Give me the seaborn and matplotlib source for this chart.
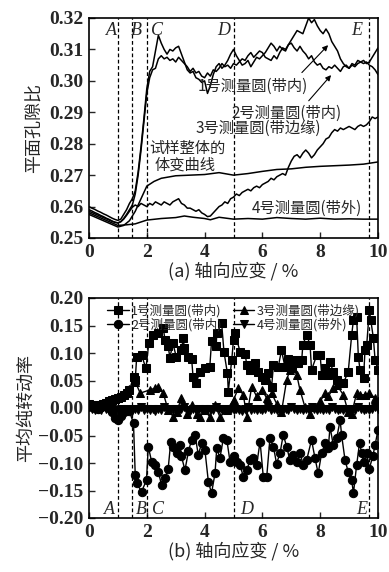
import numpy as np
import pandas as pd
import matplotlib
matplotlib.use("Agg")
import matplotlib.pyplot as plt
import seaborn as sns

# ---------------- data: panel (a) ----------------
strain_a = [round(0.1 * i, 1) for i in range(101)]
circle1_a = [0.2600, 0.2595, 0.2591, 0.2586, 0.2582, 0.2577, 0.2573, 0.2568, 0.2563, 0.2559, 0.2556,
             0.2560, 0.2575, 0.2590, 0.2610, 0.2625, 0.2650, 0.2710, 0.2790, 0.2880, 0.2975,
             0.3030, 0.3045, 0.3095, 0.3145, 0.3120, 0.3100, 0.3085, 0.3100, 0.3095, 0.3105,
             0.3110, 0.3085, 0.3060, 0.3035, 0.3025, 0.3030, 0.3010, 0.3005, 0.2995, 0.3000,
             0.2960, 0.2985, 0.3020, 0.3045, 0.3055, 0.3040, 0.3050, 0.3065, 0.3085, 0.3100,
             0.3080, 0.3065, 0.3050, 0.3055, 0.3065, 0.3045, 0.3060, 0.3075, 0.3070, 0.3080,
             0.3090, 0.3105, 0.3120, 0.3110, 0.3095, 0.3110, 0.3100, 0.3095, 0.3115, 0.3130,
             0.3145, 0.3160, 0.3155, 0.3150, 0.3175, 0.3200, 0.3185, 0.3195, 0.3175, 0.3160,
             0.3150, 0.3165, 0.3150, 0.3125, 0.3110, 0.3095, 0.3070, 0.3055, 0.3045, 0.3040,
             0.3050, 0.3045, 0.3055, 0.3060, 0.3065, 0.3055, 0.3060, 0.3075, 0.3090, 0.3105]
circle2_a = [0.2590, 0.2586, 0.2581, 0.2577, 0.2572, 0.2568, 0.2563, 0.2559, 0.2554, 0.2550, 0.2548,
             0.2552, 0.2562, 0.2575, 0.2590, 0.2605, 0.2640, 0.2700, 0.2780, 0.2870, 0.2960,
             0.3010, 0.3035, 0.3040, 0.3070, 0.3080, 0.3070, 0.3075, 0.3065, 0.3070, 0.3060,
             0.3075, 0.3065, 0.3055, 0.3045, 0.3030, 0.3040, 0.3025, 0.3030, 0.3015, 0.3010,
             0.3025, 0.3015, 0.3035, 0.3030, 0.3040, 0.3055, 0.3045, 0.3050, 0.3040, 0.3055,
             0.3050, 0.3060, 0.3070, 0.3065, 0.3080, 0.3090, 0.3075, 0.3085, 0.3095, 0.3090,
             0.3075, 0.3070, 0.3065, 0.3080, 0.3070, 0.3090, 0.3105, 0.3100, 0.3115, 0.3120,
             0.3105, 0.3095, 0.3110, 0.3095, 0.3085, 0.3070, 0.3080, 0.3060, 0.3050, 0.3055,
             0.3040, 0.3035, 0.3045, 0.3040, 0.3050, 0.3040, 0.3030, 0.3045, 0.3050, 0.3040,
             0.3055, 0.3050, 0.3065, 0.3060, 0.3055, 0.3060, 0.3050, 0.3045, 0.3035, 0.3020]
circle3_a = [0.2585, 0.2581, 0.2577, 0.2573, 0.2569, 0.2565, 0.2561, 0.2557, 0.2553, 0.2550, 0.2548,
             0.2552, 0.2560, 0.2572, 0.2585, 0.2598, 0.2605, 0.2600, 0.2610, 0.2605, 0.2600,
             0.2610, 0.2605, 0.2615, 0.2610, 0.2605, 0.2615, 0.2610, 0.2605, 0.2615, 0.2620,
             0.2625, 0.2610, 0.2605, 0.2595, 0.2595, 0.2590, 0.2585, 0.2590, 0.2580, 0.2575,
             0.2568, 0.2570, 0.2580, 0.2590, 0.2600, 0.2605, 0.2615, 0.2610, 0.2625, 0.2630,
             0.2640, 0.2635, 0.2645, 0.2650, 0.2655, 0.2650, 0.2660, 0.2665, 0.2660, 0.2670,
             0.2675, 0.2680, 0.2690, 0.2685, 0.2695, 0.2700, 0.2705, 0.2700, 0.2725, 0.2745,
             0.2760, 0.2765, 0.2755, 0.2770, 0.2780, 0.2770, 0.2755, 0.2765, 0.2780, 0.2790,
             0.2800, 0.2815, 0.2820, 0.2835, 0.2845, 0.2840, 0.2850, 0.2845, 0.2850, 0.2855,
             0.2850, 0.2845, 0.2855, 0.2860, 0.2855, 0.2860, 0.2870, 0.2885, 0.2880, 0.2885]
strain_vol = [0.0, 0.5, 1.0, 1.2, 1.4, 1.6, 1.8, 2.0, 2.25, 2.5, 3.0, 3.5, 4.0, 4.5, 5.0,
              5.5, 6.0, 6.5, 7.0, 7.5, 8.0, 8.5, 9.0, 9.5, 10.0]
volume_a = [0.2575, 0.2555, 0.2535, 0.2540, 0.2555, 0.2585, 0.2625, 0.2665, 0.2680, 0.2690,
            0.2698, 0.2700, 0.2702, 0.2708, 0.2700, 0.2705, 0.2712, 0.2718, 0.2720, 0.2725,
            0.2728, 0.2730, 0.2732, 0.2735, 0.2742]
strain_c4 = [0.0, 0.5, 1.0, 1.3, 1.6, 2.0, 2.5, 3.0, 3.3, 3.6, 4.0, 4.2, 4.5, 5.0, 5.5,
             6.0, 6.5, 7.0, 7.5, 8.0, 8.5, 9.0, 9.5, 10.0]
circle4_a = [0.2580, 0.2560, 0.2540, 0.2542, 0.2545, 0.2557, 0.2562, 0.2565, 0.2570, 0.2566,
             0.2562, 0.2558, 0.2566, 0.2560, 0.2562, 0.2560, 0.2565, 0.2562, 0.2560, 0.2563,
             0.2560, 0.2561, 0.2560, 0.2560]

# ---------------- data: panel (b) ----------------
early_x = [0.0, 0.1, 0.2, 0.3, 0.4, 0.5, 0.6, 0.7, 0.8, 0.9, 1.0, 1.1, 1.2, 1.3, 1.4]
s1_x = early_x + [1.54, 1.6, 1.65, 1.82, 1.97, 2.07, 2.2, 2.4, 2.57, 2.63, 2.74, 2.8, 2.9, 3.02, 3.2,
                  3.26, 3.3, 3.43, 3.55, 3.6, 3.7, 3.84, 4.01, 4.18, 4.24, 4.4, 4.42, 4.59, 4.67,
                  4.79, 4.82, 4.94, 5.0, 5.05, 5.23, 5.4, 5.46, 5.57, 5.75, 5.86, 5.98, 6.09, 6.2,
                  6.32, 6.38, 6.55, 6.66, 6.78, 6.9, 7.01, 7.13, 7.24, 7.36, 7.4, 7.53, 7.65, 7.7,
                  7.88, 8.0, 8.05, 8.17, 8.28, 8.34, 8.45, 8.57, 8.69, 8.8, 8.97, 9.09, 9.15, 9.26,
                  9.32, 9.38, 9.5, 9.55, 9.61, 9.7, 9.75, 9.84, 9.9, 10.0]
s1_y = [0.008, 0.006, 0.005, 0.004, 0.006, 0.008, 0.010, 0.012, 0.015, 0.017, 0.018, 0.020, 0.024,
        0.028, 0.032,
        0.057, 0.051, 0.093, 0.096, 0.072, 0.118, 0.133, 0.136, 0.145, 0.124, 0.112, 0.091, 0.118,
        0.093, 0.105, 0.127, 0.110, 0.093, 0.090, 0.057, 0.045, 0.066, 0.072, 0.075, 0.121, 0.112,
        0.136, 0.154, 0.102, 0.063, 0.030, 0.088, 0.124, 0.136, 0.102, 0.099, 0.078, 0.069, 0.081,
        0.066, 0.057, 0.051, 0.063, 0.039, 0.078, 0.075, 0.105, 0.075, 0.090, 0.078, 0.087, 0.081,
        0.087, 0.115, 0.133, 0.115, 0.069, 0.096, 0.096, 0.060, 0.072, 0.060, 0.084, 0.066, 0.051,
        0.045, 0.045, 0.066, 0.133, 0.160, 0.166, 0.093, 0.069, 0.054, 0.105, 0.115, 0.178, 0.160,
        0.127, 0.087, 0.069]
s2_x = early_x + [1.54, 1.6, 1.65, 1.82, 1.99, 2.05, 2.17, 2.28, 2.4, 2.51, 2.63, 2.74, 2.83, 2.92,
                  3.03, 3.15, 3.2, 3.32, 3.44, 3.55, 3.67, 3.78, 3.9, 4.01, 4.13, 4.24, 4.36, 4.42,
                  4.53, 4.65, 4.77, 4.88, 5.0, 5.11, 5.23, 5.34, 5.46, 5.57, 5.69, 5.8, 5.92, 6.03,
                  6.15, 6.26, 6.38, 6.49, 6.61, 6.72, 6.84, 6.95, 7.07, 7.19, 7.3, 7.42, 7.53, 7.7,
                  7.82, 7.93, 8.05, 8.17, 8.28, 8.34, 8.45, 8.57, 8.69, 8.74, 8.86, 8.97, 9.09, 9.15,
                  9.26, 9.36, 9.44, 9.5, 9.61, 9.7, 9.82, 9.9, 10.0]
s2_y = [0.004, 0.002, 0.000, -0.002, 0.002, 0.004, 0.003, 0.000, -0.008, -0.018, -0.022, -0.015,
        -0.008, -0.004, -0.006,
        -0.028, -0.122, -0.137, -0.152, -0.131, -0.070, -0.098, -0.104, -0.116, -0.140, -0.128,
        -0.110, -0.061, -0.070, -0.082, -0.067, -0.088, -0.113, -0.079, -0.058, -0.049, -0.085,
        -0.064, -0.076, -0.134, -0.155, -0.119, -0.073, -0.091, -0.055, -0.058, -0.098, -0.088,
        -0.098, -0.104, -0.125, -0.113, -0.095, -0.091, -0.104, -0.061, -0.125, -0.125, -0.055,
        -0.070, -0.101, -0.082, -0.049, -0.070, -0.095, -0.085, -0.098, -0.082, -0.104, -0.095,
        -0.058, -0.091, -0.119, -0.082, -0.064, -0.073, -0.034, -0.067, -0.055, -0.022, -0.049,
        -0.095, -0.116, -0.131, -0.155, -0.104, -0.064, -0.082, -0.098, -0.082, -0.110, -0.088,
        -0.067, -0.040]
s3_x = early_x + [1.6, 1.77, 2.11, 2.28, 2.4, 2.57, 2.74, 2.92, 3.03, 3.2, 3.38, 3.55, 3.72, 3.84,
                  4.01, 4.18, 4.36, 4.53, 4.77, 5.0, 5.17, 5.34, 5.46, 5.63, 5.8, 5.98, 6.15, 6.32,
                  6.49, 6.66, 6.84, 6.95, 7.07, 7.19, 7.3, 7.47, 7.65, 7.88, 8.0, 8.17, 8.28, 8.45,
                  8.57, 8.8, 8.97, 9.09, 9.26, 9.38, 9.55, 9.7, 9.9, 10.0]
s3_y = [0.006, 0.004, 0.003, 0.004, 0.006, 0.008, 0.010, 0.012, 0.014, 0.016, 0.018, 0.022, 0.026,
        0.030, 0.034,
        0.048, 0.027, 0.033, 0.036, 0.039, 0.027, -0.004, -0.016, -0.007, 0.018, -0.010, 0.005,
        -0.010, -0.016, -0.004, -0.016, 0.005, -0.016, -0.004, 0.015, 0.036, 0.024, -0.016, 0.039,
        0.021, 0.033, 0.018, 0.027, 0.008, -0.007, 0.051, 0.069, 0.072, 0.060, 0.033, 0.002,
        -0.010, 0.002, 0.012, 0.027, 0.021, 0.036, 0.042, 0.024, -0.007, -0.010, 0.027, 0.024,
        0.024, 0.027, 0.018, 0.012]
s4_x = [round(0.1 * i, 1) for i in range(101)]
s4_y = [0.002, -0.002, -0.004, -0.001, -0.003, 0.001, -0.002, -0.004, -0.001, -0.003,
        -0.005, -0.002, -0.004, -0.001, -0.003, -0.005, -0.002, -0.004, 0.001, -0.003,
        -0.002, -0.004, -0.001, -0.005, -0.002, -0.003, 0.001, -0.004, -0.002, -0.003,
        -0.001, -0.004, -0.002, 0.001, -0.003, -0.005, -0.002, -0.004, -0.001, -0.003,
        -0.002, -0.004, -0.001, -0.003, 0.001, -0.002, -0.004, -0.001, -0.003, -0.002,
        -0.004, -0.001, -0.003, -0.005, -0.002, 0.001, -0.003, -0.002, -0.004, -0.001,
        -0.003, -0.002, 0.001, -0.004, -0.002, -0.003, -0.001, -0.004, -0.002, -0.003,
        0.001, -0.002, -0.004, -0.001, -0.003, -0.002, -0.004, 0.001, -0.002, -0.003,
        -0.001, -0.004, -0.002, -0.003, 0.001, -0.002, -0.004, -0.001, -0.003, -0.002,
        -0.004, -0.001, -0.003, 0.001, -0.002, -0.004, -0.001, -0.003, -0.002, 0.001, -0.002]

stage_lines = [1.0, 1.5, 2.0, 5.0, 9.7]
stage_labels = ["A", "B", "C", "D", "E"]
stage_label_x_a = [0.78, 1.65, 2.35, 4.65, 9.27]
stage_label_x_b = [0.72, 1.8, 2.4, 5.45, 9.43]
legend_labels = ["1号测量圆(带内)", "2号测量圆(带内)", "3号测量圆(带边缘)", "4号测量圆(带外)"]

# ---------------- style ----------------
sns.set_style("ticks")
plt.rcParams['font.family'] = ['Noto Sans CJK SC', 'DejaVu Sans']
serif_bold = dict(family='Liberation Serif', weight='bold', size=14)

fig = plt.figure(figsize=(3.89, 5.72), dpi=100)
ax1 = fig.add_axes([89/389, 1-238/572, 289/389, 220/572])
ax2 = fig.add_axes([89/389, 1-518/572, 289/389, 220/572])

# panel (a)
for xs, ys in [(strain_a, circle1_a), (strain_a, circle2_a), (strain_a, circle3_a),
               (strain_vol, volume_a), (strain_c4, circle4_a)]:
    sns.lineplot(x=xs, y=ys, ax=ax1, color='k', lw=1.1, estimator=None, sort=False, legend=False)

# panel (b)
markers = ['s', 'o', '^', 'v']
series_b = [(s1_x, s1_y), (s2_x, s2_y), (s3_x, s3_y), (s4_x, s4_y)]
for (xs, ys), m, lab in zip(series_b, markers, legend_labels):
    sns.lineplot(x=xs, y=ys, ax=ax2, color='k', lw=1.0, marker=m, markersize=6,
                 markeredgecolor='k', estimator=None, sort=False, label=lab)

for ax in (ax1, ax2):
    for xv in stage_lines:
        ax.axvline(xv, color='k', ls=(0, (3, 2)), lw=0.9)
    ax.set_xlim(0, 10)
    ax.set_xticks([0, 2, 4, 6, 8, 10])
    ax.tick_params(direction='in', length=4, width=1, top=False, right=False, pad=4)
    for sp in ax.spines.values():
        sp.set_visible(True)
        sp.set_linewidth(1.2)
        sp.set_color('k')

ax1.set_ylim(0.25, 0.32)
yt1 = [0.25, 0.26, 0.27, 0.28, 0.29, 0.30, 0.31, 0.32]
ax1.set_yticks(yt1)
ax1.set_yticklabels([f"{v:.2f}" for v in yt1], **serif_bold)
ax1.set_xticklabels(["0", "2", "4", "6", "8", "10"], **serif_bold)

ax2.set_ylim(-0.20, 0.20)
yt2 = [-0.20, -0.15, -0.10, -0.05, 0.00, 0.05, 0.10, 0.15, 0.20]
ax2.set_yticks(yt2)
ax2.set_yticklabels([f"{v:.2f}".replace("-", "\u2212") for v in yt2], **serif_bold)
ax2.set_xticklabels(["0", "2", "4", "6", "8", "10"], **serif_bold)

ax1.set_ylabel("平面孔隙比", fontsize=13, labelpad=4)
ax2.set_ylabel("平均纯转动率", fontsize=13, labelpad=2)
ax1.set_xlabel("(a) 轴向应变 / %", fontsize=13, labelpad=1)
ax2.set_xlabel("(b) 轴向应变 / %", fontsize=13, labelpad=1)

ital = dict(family='Liberation Serif', style='italic', size=13)
for lx, lab in zip(stage_label_x_a, stage_labels):
    ax1.text(lx, 0.3159, lab, ha='center', va='center', **ital)
for lx, lab in zip(stage_label_x_b, stage_labels):
    ax2.text(lx, -0.184, lab, ha='center', va='center', **ital)

ax1.text(5.68, 0.2983, "1号测量圆(带内)", ha='center', va='center', fontsize=11)
ax1.text(6.85, 0.2898, "2号测量圆(带内)", ha='center', va='center', fontsize=11)
ax1.text(5.85, 0.2850, "3号测量圆(带边缘)", ha='center', va='center', fontsize=11)
ax1.text(3.39, 0.2786, "试样整体的", ha='center', va='center', fontsize=11)
ax1.text(3.32, 0.2732, "体变曲线", ha='center', va='center', fontsize=11)
ax1.text(7.54, 0.2595, "4号测量圆(带外)", ha='center', va='center', fontsize=11)
ax1.annotate("", xy=(8.34, 0.3120), xytext=(7.3, 0.3020),
             arrowprops=dict(arrowstyle='-|>', color='k', lw=0.8, mutation_scale=8))
ax1.annotate("", xy=(8.44, 0.3025), xytext=(7.54, 0.2930),
             arrowprops=dict(arrowstyle='-|>', color='k', lw=0.8, mutation_scale=8))

leg = ax2.legend(loc='upper center', ncol=2, frameon=False, fontsize=9,
                 handlelength=1.7, handletextpad=0.2, columnspacing=0.9,
                 labelspacing=0.05, borderaxespad=0.05, bbox_to_anchor=(0.5, 1.0))

fig.savefig("out.png", dpi=100)
